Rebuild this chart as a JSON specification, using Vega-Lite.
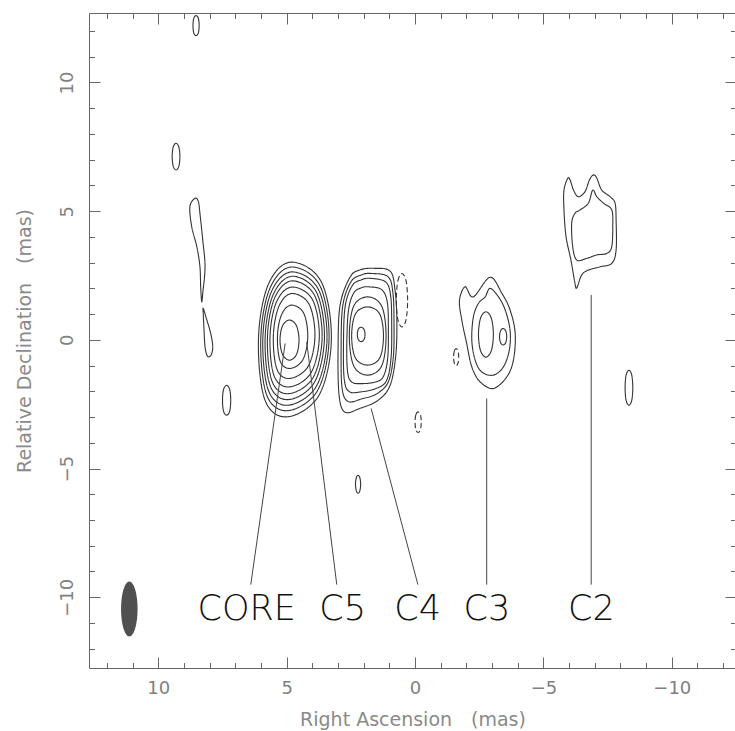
{
"$schema": "https://vega.github.io/schema/vega-lite/v6.json",
"width": 647, "height": 655,
"autosize": "none",
"padding": {"left": 89, "top": 13, "right": 0, "bottom": 63},
"background": "white",
"config": {
  "view": {"stroke": "#666", "strokeWidth": 1},
  "axis": {"grid": false, "domain": false, "tickColor": "#666", "tickWidth": 1, "labelFont": "DejaVu Sans", "labelFontSize": 18, "labelColor": "#808080", "titleFont": "DejaVu Sans", "titleFontSize": 19, "titleFontWeight": "normal", "titleColor": "#8a8a8a", "labelOverlap": false, "labelFlush": false}
},
"datasets": {
  "contours": [
    {"c":"k1","i":0,"x":6.10,"y":0.02,"t":"p"},{"c":"k1","i":1,"x":5.73,"y":2.12,"t":"p"},{"c":"k1","i":2,"x":4.85,"y":3.02,"t":"p"},{"c":"k1","i":3,"x":3.66,"y":2.27,"t":"p"},{"c":"k1","i":4,"x":3.26,"y":0.02,"t":"p"},{"c":"k1","i":5,"x":3.74,"y":-2.15,"t":"p"},{"c":"k1","i":6,"x":4.97,"y":-2.99,"t":"p"},{"c":"k1","i":7,"x":5.85,"y":-2.33,"t":"p"},
    {"c":"k2","i":0,"x":6.01,"y":0.04,"t":"p"},{"c":"k2","i":1,"x":5.66,"y":1.99,"t":"p"},{"c":"k2","i":2,"x":4.83,"y":2.83,"t":"p"},{"c":"k2","i":3,"x":3.72,"y":2.13,"t":"p"},{"c":"k2","i":4,"x":3.35,"y":0.04,"t":"p"},{"c":"k2","i":5,"x":3.80,"y":-1.97,"t":"p"},{"c":"k2","i":6,"x":4.95,"y":-2.75,"t":"p"},{"c":"k2","i":7,"x":5.78,"y":-2.14,"t":"p"},
    {"c":"k3","i":0,"x":5.93,"y":0.05,"t":"p"},{"c":"k3","i":1,"x":5.60,"y":1.86,"t":"p"},{"c":"k3","i":2,"x":4.82,"y":2.64,"t":"p"},{"c":"k3","i":3,"x":3.78,"y":1.99,"t":"p"},{"c":"k3","i":4,"x":3.43,"y":0.05,"t":"p"},{"c":"k3","i":5,"x":3.85,"y":-1.81,"t":"p"},{"c":"k3","i":6,"x":4.94,"y":-2.54,"t":"p"},{"c":"k3","i":7,"x":5.71,"y":-1.97,"t":"p"},
    {"c":"k4","i":0,"x":5.84,"y":0.08,"t":"p"},{"c":"k4","i":1,"x":5.53,"y":1.75,"t":"p"},{"c":"k4","i":2,"x":4.80,"y":2.47,"t":"p"},{"c":"k4","i":3,"x":3.85,"y":1.87,"t":"p"},{"c":"k4","i":4,"x":3.53,"y":0.08,"t":"p"},{"c":"k4","i":5,"x":3.92,"y":-1.65,"t":"p"},{"c":"k4","i":6,"x":4.92,"y":-2.32,"t":"p"},{"c":"k4","i":7,"x":5.64,"y":-1.79,"t":"p"},
    {"c":"k5","i":0,"x":5.75,"y":0.10,"t":"p"},{"c":"k5","i":1,"x":5.47,"y":1.63,"t":"p"},{"c":"k5","i":2,"x":4.80,"y":2.29,"t":"p"},{"c":"k5","i":3,"x":3.92,"y":1.74,"t":"p"},{"c":"k5","i":4,"x":3.62,"y":0.10,"t":"p"},{"c":"k5","i":5,"x":3.98,"y":-1.48,"t":"p"},{"c":"k5","i":6,"x":4.92,"y":-2.09,"t":"p"},{"c":"k5","i":7,"x":5.57,"y":-1.61,"t":"p"},
    {"c":"k6","i":0,"x":5.65,"y":0.11,"t":"p"},{"c":"k6","i":1,"x":5.40,"y":1.47,"t":"p"},{"c":"k6","i":2,"x":4.80,"y":2.05,"t":"p"},{"c":"k6","i":3,"x":4.00,"y":1.57,"t":"p"},{"c":"k6","i":4,"x":3.73,"y":0.11,"t":"p"},{"c":"k6","i":5,"x":4.06,"y":-1.29,"t":"p"},{"c":"k6","i":6,"x":4.90,"y":-1.83,"t":"p"},{"c":"k6","i":7,"x":5.49,"y":-1.40,"t":"p"},
    {"c":"k7","i":0,"x":5.52,"y":0.15,"t":"p"},{"c":"k7","i":1,"x":5.30,"y":1.31,"t":"p"},{"c":"k7","i":2,"x":4.80,"y":1.80,"t":"p"},{"c":"k7","i":3,"x":4.13,"y":1.39,"t":"p"},{"c":"k7","i":4,"x":3.90,"y":0.15,"t":"p"},{"c":"k7","i":5,"x":4.17,"y":-1.04,"t":"p"},{"c":"k7","i":6,"x":4.88,"y":-1.50,"t":"p"},{"c":"k7","i":7,"x":5.38,"y":-1.14,"t":"p"},
    {"c":"k8","i":0,"x":5.36,"y":0.12,"t":"p"},{"c":"k8","i":1,"x":5.20,"y":0.98,"t":"p"},{"c":"k8","i":2,"x":4.82,"y":1.35,"t":"p"},{"c":"k8","i":3,"x":4.34,"y":1.04,"t":"p"},{"c":"k8","i":4,"x":4.18,"y":0.12,"t":"p"},{"c":"k8","i":5,"x":4.37,"y":-0.77,"t":"p"},{"c":"k8","i":6,"x":4.86,"y":-1.11,"t":"p"},{"c":"k8","i":7,"x":5.25,"y":-0.84,"t":"p"},
    {"c":"k9","i":0,"x":5.26,"y":-0.01,"t":"p"},{"c":"k9","i":1,"x":5.16,"y":0.55,"t":"p"},{"c":"k9","i":2,"x":4.89,"y":0.77,"t":"p"},{"c":"k9","i":3,"x":4.62,"y":0.55,"t":"p"},{"c":"k9","i":4,"x":4.52,"y":-0.01,"t":"p"},{"c":"k9","i":5,"x":4.62,"y":-0.57,"t":"p"},{"c":"k9","i":6,"x":4.89,"y":-0.79,"t":"p"},{"c":"k9","i":7,"x":5.16,"y":-0.57,"t":"p"},
    {"c":"q1","i":0,"x":1.62,"y":2.78,"t":"p"},{"c":"q1","i":1,"x":0.97,"y":2.67,"t":"p"},{"c":"q1","i":2,"x":0.78,"y":1.93,"t":"p"},{"c":"q1","i":3,"x":0.71,"y":0.77,"t":"p"},{"c":"q1","i":4,"x":0.75,"y":-0.59,"t":"p"},{"c":"q1","i":5,"x":0.97,"y":-1.76,"t":"p"},{"c":"q1","i":6,"x":1.44,"y":-2.35,"t":"p"},{"c":"q1","i":7,"x":2.14,"y":-2.66,"t":"p"},{"c":"q1","i":8,"x":2.73,"y":-2.81,"t":"p"},{"c":"q1","i":9,"x":2.96,"y":-2.15,"t":"p"},{"c":"q1","i":10,"x":3.00,"y":-0.40,"t":"p"},{"c":"q1","i":11,"x":2.92,"y":1.35,"t":"p"},{"c":"q1","i":12,"x":2.53,"y":2.44,"t":"p"},{"c":"q1","i":13,"x":2.14,"y":2.72,"t":"p"},
    {"c":"q2","i":0,"x":1.70,"y":2.58,"t":"p"},{"c":"q2","i":1,"x":1.05,"y":2.45,"t":"p"},{"c":"q2","i":2,"x":0.86,"y":1.80,"t":"p"},{"c":"q2","i":3,"x":0.82,"y":0.60,"t":"p"},{"c":"q2","i":4,"x":0.85,"y":-0.70,"t":"p"},{"c":"q2","i":5,"x":1.05,"y":-1.65,"t":"p"},{"c":"q2","i":6,"x":1.50,"y":-2.10,"t":"p"},{"c":"q2","i":7,"x":2.10,"y":-2.30,"t":"p"},{"c":"q2","i":8,"x":2.60,"y":-2.40,"t":"p"},{"c":"q2","i":9,"x":2.84,"y":-1.90,"t":"p"},{"c":"q2","i":10,"x":2.88,"y":-0.40,"t":"p"},{"c":"q2","i":11,"x":2.82,"y":1.30,"t":"p"},{"c":"q2","i":12,"x":2.50,"y":2.25,"t":"p"},{"c":"q2","i":13,"x":2.10,"y":2.52,"t":"p"},
    {"c":"q3","i":0,"x":1.75,"y":2.39,"t":"p"},{"c":"q3","i":1,"x":1.15,"y":2.25,"t":"p"},{"c":"q3","i":2,"x":0.95,"y":1.70,"t":"p"},{"c":"q3","i":3,"x":0.91,"y":0.50,"t":"p"},{"c":"q3","i":4,"x":0.94,"y":-0.75,"t":"p"},{"c":"q3","i":5,"x":1.12,"y":-1.60,"t":"p"},{"c":"q3","i":6,"x":1.55,"y":-1.90,"t":"p"},{"c":"q3","i":7,"x":2.10,"y":-2.02,"t":"p"},{"c":"q3","i":8,"x":2.55,"y":-2.02,"t":"p"},{"c":"q3","i":9,"x":2.75,"y":-1.60,"t":"p"},{"c":"q3","i":10,"x":2.79,"y":-0.40,"t":"p"},{"c":"q3","i":11,"x":2.73,"y":1.25,"t":"p"},{"c":"q3","i":12,"x":2.45,"y":2.10,"t":"p"},{"c":"q3","i":13,"x":2.10,"y":2.33,"t":"p"},
    {"c":"q4","i":0,"x":1.80,"y":2.06,"t":"p"},{"c":"q4","i":1,"x":1.30,"y":1.95,"t":"p"},{"c":"q4","i":2,"x":1.08,"y":1.45,"t":"p"},{"c":"q4","i":3,"x":1.04,"y":0.40,"t":"p"},{"c":"q4","i":4,"x":1.07,"y":-0.75,"t":"p"},{"c":"q4","i":5,"x":1.25,"y":-1.45,"t":"p"},{"c":"q4","i":6,"x":1.60,"y":-1.65,"t":"p"},{"c":"q4","i":7,"x":2.10,"y":-1.70,"t":"p"},{"c":"q4","i":8,"x":2.45,"y":-1.65,"t":"p"},{"c":"q4","i":9,"x":2.62,"y":-1.30,"t":"p"},{"c":"q4","i":10,"x":2.66,"y":-0.30,"t":"p"},{"c":"q4","i":11,"x":2.60,"y":1.10,"t":"p"},{"c":"q4","i":12,"x":2.40,"y":1.80,"t":"p"},{"c":"q4","i":13,"x":2.10,"y":2.02,"t":"p"},
    {"c":"q5","i":0,"x":2.56,"y":0.15,"t":"p"},{"c":"q5","i":1,"x":2.39,"y":1.31,"t":"p"},{"c":"q5","i":2,"x":1.85,"y":1.67,"t":"p"},{"c":"q5","i":3,"x":1.30,"y":1.31,"t":"p"},{"c":"q5","i":4,"x":1.13,"y":0.15,"t":"p"},{"c":"q5","i":5,"x":1.30,"y":-1.01,"t":"p"},{"c":"q5","i":6,"x":1.85,"y":-1.37,"t":"p"},{"c":"q5","i":7,"x":2.39,"y":-1.01,"t":"p"},
    {"c":"q6","i":0,"x":2.47,"y":0.15,"t":"p"},{"c":"q6","i":1,"x":2.32,"y":1.01,"t":"p"},{"c":"q6","i":2,"x":1.85,"y":1.28,"t":"p"},{"c":"q6","i":3,"x":1.38,"y":1.01,"t":"p"},{"c":"q6","i":4,"x":1.23,"y":0.15,"t":"p"},{"c":"q6","i":5,"x":1.38,"y":-0.71,"t":"p"},{"c":"q6","i":6,"x":1.85,"y":-0.98,"t":"p"},{"c":"q6","i":7,"x":2.32,"y":-0.71,"t":"p"},
    {"c":"q7","i":0,"x":2.25,"y":0.21,"t":"p"},{"c":"q7","i":1,"x":2.21,"y":0.41,"t":"p"},{"c":"q7","i":2,"x":2.10,"y":0.49,"t":"p"},{"c":"q7","i":3,"x":1.99,"y":0.41,"t":"p"},{"c":"q7","i":4,"x":1.95,"y":0.21,"t":"p"},{"c":"q7","i":5,"x":1.99,"y":0.01,"t":"p"},{"c":"q7","i":6,"x":2.10,"y":-0.07,"t":"p"},{"c":"q7","i":7,"x":2.21,"y":0.01,"t":"p"},
    {"c":"r1","i":0,"x":-1.95,"y":2.06,"t":"p"},{"c":"r1","i":1,"x":-2.27,"y":1.67,"t":"p"},{"c":"r1","i":2,"x":-2.92,"y":2.43,"t":"p"},{"c":"r1","i":3,"x":-3.38,"y":1.81,"t":"p"},{"c":"r1","i":4,"x":-3.70,"y":1.16,"t":"p"},{"c":"r1","i":5,"x":-3.90,"y":0.25,"t":"p"},{"c":"r1","i":6,"x":-3.83,"y":-0.79,"t":"p"},{"c":"r1","i":7,"x":-3.57,"y":-1.44,"t":"p"},{"c":"r1","i":8,"x":-3.05,"y":-1.89,"t":"p"},{"c":"r1","i":9,"x":-2.53,"y":-1.63,"t":"p"},{"c":"r1","i":10,"x":-2.21,"y":-1.05,"t":"p"},{"c":"r1","i":11,"x":-2.01,"y":-0.14,"t":"p"},{"c":"r1","i":12,"x":-1.82,"y":0.77,"t":"p"},{"c":"r1","i":13,"x":-1.73,"y":1.54,"t":"p"},
    {"c":"r2","i":0,"x":-2.92,"y":2.00,"t":"p"},{"c":"r2","i":1,"x":-3.25,"y":1.67,"t":"p"},{"c":"r2","i":2,"x":-3.51,"y":1.16,"t":"p"},{"c":"r2","i":3,"x":-3.70,"y":0.38,"t":"p"},{"c":"r2","i":4,"x":-3.67,"y":-0.40,"t":"p"},{"c":"r2","i":5,"x":-3.44,"y":-1.05,"t":"p"},{"c":"r2","i":6,"x":-3.05,"y":-1.37,"t":"p"},{"c":"r2","i":7,"x":-2.60,"y":-1.25,"t":"p"},{"c":"r2","i":8,"x":-2.34,"y":-0.79,"t":"p"},{"c":"r2","i":9,"x":-2.21,"y":-0.01,"t":"p"},{"c":"r2","i":10,"x":-2.27,"y":0.89,"t":"p"},{"c":"r2","i":11,"x":-2.47,"y":1.42,"t":"p"},{"c":"r2","i":12,"x":-2.73,"y":1.67,"t":"p"},
    {"c":"r3","i":0,"x":-2.47,"y":0.21,"t":"p"},{"c":"r3","i":1,"x":-2.55,"y":0.84,"t":"p"},{"c":"r3","i":2,"x":-2.76,"y":1.09,"t":"p"},{"c":"r3","i":3,"x":-2.97,"y":0.84,"t":"p"},{"c":"r3","i":4,"x":-3.05,"y":0.21,"t":"p"},{"c":"r3","i":5,"x":-2.97,"y":-0.42,"t":"p"},{"c":"r3","i":6,"x":-2.76,"y":-0.67,"t":"p"},{"c":"r3","i":7,"x":-2.55,"y":-0.42,"t":"p"},
    {"c":"r4","i":0,"x":-3.29,"y":0.12,"t":"p"},{"c":"r4","i":1,"x":-3.33,"y":0.35,"t":"p"},{"c":"r4","i":2,"x":-3.43,"y":0.44,"t":"p"},{"c":"r4","i":3,"x":-3.53,"y":0.35,"t":"p"},{"c":"r4","i":4,"x":-3.57,"y":0.12,"t":"p"},{"c":"r4","i":5,"x":-3.53,"y":-0.11,"t":"p"},{"c":"r4","i":6,"x":-3.43,"y":-0.20,"t":"p"},{"c":"r4","i":7,"x":-3.33,"y":-0.11,"t":"p"},
    {"c":"s1","i":0,"x":-5.95,"y":6.28,"t":"p"},{"c":"s1","i":1,"x":-5.80,"y":5.82,"t":"p"},{"c":"s1","i":2,"x":-5.80,"y":5.05,"t":"p"},{"c":"s1","i":3,"x":-5.88,"y":4.01,"t":"p"},{"c":"s1","i":4,"x":-6.07,"y":3.10,"t":"p"},{"c":"s1","i":5,"x":-6.23,"y":2.19,"t":"p"},{"c":"s1","i":6,"x":-6.30,"y":2.02,"t":"p"},{"c":"s1","i":7,"x":-6.49,"y":2.52,"t":"p"},{"c":"s1","i":8,"x":-6.75,"y":2.71,"t":"p"},{"c":"s1","i":9,"x":-7.21,"y":2.84,"t":"p"},{"c":"s1","i":10,"x":-7.66,"y":2.97,"t":"p"},{"c":"s1","i":11,"x":-7.83,"y":3.49,"t":"p"},{"c":"s1","i":12,"x":-7.83,"y":4.66,"t":"p"},{"c":"s1","i":13,"x":-7.79,"y":5.31,"t":"p"},{"c":"s1","i":14,"x":-7.60,"y":5.56,"t":"p"},{"c":"s1","i":15,"x":-7.27,"y":5.82,"t":"p"},{"c":"s1","i":16,"x":-7.08,"y":6.28,"t":"p"},{"c":"s1","i":17,"x":-6.95,"y":6.41,"t":"p"},{"c":"s1","i":18,"x":-6.79,"y":6.21,"t":"p"},{"c":"s1","i":19,"x":-6.62,"y":5.76,"t":"p"},{"c":"s1","i":20,"x":-6.36,"y":5.56,"t":"p"},{"c":"s1","i":21,"x":-6.17,"y":5.82,"t":"p"},{"c":"s1","i":22,"x":-6.04,"y":6.21,"t":"p"},
    {"c":"s2","i":0,"x":-6.92,"y":5.82,"t":"p"},{"c":"s2","i":1,"x":-6.75,"y":5.31,"t":"p"},{"c":"s2","i":2,"x":-6.43,"y":5.05,"t":"p"},{"c":"s2","i":3,"x":-6.23,"y":4.92,"t":"p"},{"c":"s2","i":4,"x":-6.10,"y":4.53,"t":"p"},{"c":"s2","i":5,"x":-6.14,"y":3.62,"t":"p"},{"c":"s2","i":6,"x":-6.30,"y":3.10,"t":"p"},{"c":"s2","i":7,"x":-6.69,"y":3.17,"t":"p"},{"c":"s2","i":8,"x":-7.08,"y":3.30,"t":"p"},{"c":"s2","i":9,"x":-7.47,"y":3.36,"t":"p"},{"c":"s2","i":10,"x":-7.66,"y":3.62,"t":"p"},{"c":"s2","i":11,"x":-7.70,"y":4.40,"t":"p"},{"c":"s2","i":12,"x":-7.66,"y":5.05,"t":"p"},{"c":"s2","i":13,"x":-7.34,"y":5.31,"t":"p"},{"c":"s2","i":14,"x":-7.08,"y":5.56,"t":"p"},
    {"c":"a","i":0,"x":8.65,"y":12.21,"t":"p"},{"c":"a","i":1,"x":8.62,"y":12.49,"t":"p"},{"c":"a","i":2,"x":8.53,"y":12.60,"t":"p"},{"c":"a","i":3,"x":8.44,"y":12.49,"t":"p"},{"c":"a","i":4,"x":8.41,"y":12.21,"t":"p"},{"c":"a","i":5,"x":8.44,"y":11.93,"t":"p"},{"c":"a","i":6,"x":8.53,"y":11.82,"t":"p"},{"c":"a","i":7,"x":8.62,"y":11.93,"t":"p"},
    {"c":"b","i":0,"x":9.46,"y":7.12,"t":"p"},{"c":"b","i":1,"x":9.42,"y":7.49,"t":"p"},{"c":"b","i":2,"x":9.31,"y":7.64,"t":"p"},{"c":"b","i":3,"x":9.20,"y":7.49,"t":"p"},{"c":"b","i":4,"x":9.16,"y":7.12,"t":"p"},{"c":"b","i":5,"x":9.20,"y":6.75,"t":"p"},{"c":"b","i":6,"x":9.31,"y":6.60,"t":"p"},{"c":"b","i":7,"x":9.42,"y":6.75,"t":"p"},
    {"c":"cf","i":0,"x":8.57,"y":5.50,"t":"p"},{"c":"cf","i":1,"x":8.77,"y":5.18,"t":"p"},{"c":"cf","i":2,"x":8.70,"y":4.40,"t":"p"},{"c":"cf","i":3,"x":8.50,"y":3.62,"t":"p"},{"c":"cf","i":4,"x":8.38,"y":2.85,"t":"p"},{"c":"cf","i":5,"x":8.35,"y":2.06,"t":"p"},{"c":"cf","i":6,"x":8.31,"y":1.48,"t":"p"},{"c":"cf","i":7,"x":8.27,"y":1.81,"t":"p"},{"c":"cf","i":8,"x":8.18,"y":2.84,"t":"p"},{"c":"cf","i":9,"x":8.27,"y":3.88,"t":"p"},{"c":"cf","i":10,"x":8.38,"y":4.92,"t":"p"},{"c":"cf","i":11,"x":8.44,"y":5.37,"t":"p"},
    {"c":"d","i":0,"x":8.25,"y":1.22,"t":"p"},{"c":"d","i":1,"x":8.11,"y":0.77,"t":"p"},{"c":"d","i":2,"x":7.96,"y":0.25,"t":"p"},{"c":"d","i":3,"x":7.88,"y":-0.27,"t":"p"},{"c":"d","i":4,"x":7.95,"y":-0.60,"t":"p"},{"c":"d","i":5,"x":8.09,"y":-0.63,"t":"p"},{"c":"d","i":6,"x":8.18,"y":-0.27,"t":"p"},{"c":"d","i":7,"x":8.22,"y":0.38,"t":"p"},{"c":"d","i":8,"x":8.25,"y":1.03,"t":"p"},
    {"c":"e","i":0,"x":7.50,"y":-2.35,"t":"p"},{"c":"e","i":1,"x":7.46,"y":-1.93,"t":"p"},{"c":"e","i":2,"x":7.34,"y":-1.77,"t":"p"},{"c":"e","i":3,"x":7.22,"y":-1.93,"t":"p"},{"c":"e","i":4,"x":7.18,"y":-2.35,"t":"p"},{"c":"e","i":5,"x":7.22,"y":-2.77,"t":"p"},{"c":"e","i":6,"x":7.34,"y":-2.93,"t":"p"},{"c":"e","i":7,"x":7.46,"y":-2.77,"t":"p"},
    {"c":"f","i":0,"x":2.32,"y":-5.61,"t":"p"},{"c":"f","i":1,"x":2.29,"y":-5.36,"t":"p"},{"c":"f","i":2,"x":2.22,"y":-5.26,"t":"p"},{"c":"f","i":3,"x":2.15,"y":-5.36,"t":"p"},{"c":"f","i":4,"x":2.12,"y":-5.61,"t":"p"},{"c":"f","i":5,"x":2.15,"y":-5.86,"t":"p"},{"c":"f","i":6,"x":2.22,"y":-5.96,"t":"p"},{"c":"f","i":7,"x":2.29,"y":-5.86,"t":"p"},
    {"c":"j","i":0,"x":-8.18,"y":-1.86,"t":"p"},{"c":"j","i":1,"x":-8.22,"y":-1.37,"t":"p"},{"c":"j","i":2,"x":-8.33,"y":-1.18,"t":"p"},{"c":"j","i":3,"x":-8.44,"y":-1.37,"t":"p"},{"c":"j","i":4,"x":-8.48,"y":-1.86,"t":"p"},{"c":"j","i":5,"x":-8.44,"y":-2.35,"t":"p"},{"c":"j","i":6,"x":-8.33,"y":-2.54,"t":"p"},{"c":"j","i":7,"x":-8.22,"y":-2.35,"t":"p"},
    {"c":"g","i":0,"x":0.00,"y":-3.20,"t":"n"},{"c":"g","i":1,"x":-0.03,"y":-2.91,"t":"n"},{"c":"g","i":2,"x":-0.12,"y":-2.80,"t":"n"},{"c":"g","i":3,"x":-0.21,"y":-2.91,"t":"n"},{"c":"g","i":4,"x":-0.24,"y":-3.20,"t":"n"},{"c":"g","i":5,"x":-0.21,"y":-3.49,"t":"n"},{"c":"g","i":6,"x":-0.12,"y":-3.60,"t":"n"},{"c":"g","i":7,"x":-0.03,"y":-3.49,"t":"n"},
    {"c":"h","i":0,"x":0.73,"y":1.54,"t":"n"},{"c":"h","i":1,"x":0.67,"y":2.29,"t":"n"},{"c":"h","i":2,"x":0.51,"y":2.58,"t":"n"},{"c":"h","i":3,"x":0.35,"y":2.29,"t":"n"},{"c":"h","i":4,"x":0.29,"y":1.54,"t":"n"},{"c":"h","i":5,"x":0.35,"y":0.79,"t":"n"},{"c":"h","i":6,"x":0.51,"y":0.50,"t":"n"},{"c":"h","i":7,"x":0.67,"y":0.79,"t":"n"},
    {"c":"m","i":0,"x":-1.50,"y":-0.67,"t":"n"},{"c":"m","i":1,"x":-1.53,"y":-0.43,"t":"n"},{"c":"m","i":2,"x":-1.60,"y":-0.34,"t":"n"},{"c":"m","i":3,"x":-1.67,"y":-0.43,"t":"n"},{"c":"m","i":4,"x":-1.70,"y":-0.67,"t":"n"},{"c":"m","i":5,"x":-1.67,"y":-0.91,"t":"n"},{"c":"m","i":6,"x":-1.60,"y":-1.00,"t":"n"},{"c":"m","i":7,"x":-1.53,"y":-0.91,"t":"n"}
  ],
  "leaders": [
    {"name":"CORE","x":5.06,"y":-0.14,"x2":6.40,"y2":-9.51},
    {"name":"C5","x":4.22,"y":-0.08,"x2":3.05,"y2":-9.51},
    {"name":"C4","x":1.71,"y":-2.67,"x2":-0.11,"y2":-9.51},
    {"name":"C3","x":-2.79,"y":-2.28,"x2":-2.79,"y2":-9.51},
    {"name":"C2","x":-6.86,"y":1.74,"x2":-6.86,"y2":-9.51}
  ],
  "labels": [
    {"label":"CORE","x":6.56,"y":-10.88},
    {"label":"C5","x":2.82,"y":-10.88},
    {"label":"C4","x":-0.10,"y":-10.88},
    {"label":"C3","x":-2.80,"y":-10.88},
    {"label":"C2","x":-6.87,"y":-10.88}
  ],
  "beam": [{"x":11.13,"y":-10.46}]
},
"layer": [
  {
    "data": {"name": "contours"},
    "mark": {"type": "line", "interpolate": "cardinal-closed", "color": "#333333", "strokeWidth": 1.1},
    "encoding": {
      "x": {"field": "x", "type": "quantitative", "scale": {"domain": [12.7, -12.5], "nice": false, "zero": false},
        "axis": {"orient": "bottom", "title": "Right Ascension\u2003(mas)", "values": [-12,-11,-10,-9,-8,-7,-6,-5,-4,-3,-2,-1,0,1,2,3,4,5,6,7,8,9,10,11,12],
          "labelExpr": "datum.value % 5 === 0 ? (datum.value < 0 ? '\u2212' + abs(datum.value) : '' + datum.value) : ''",
          "tickSize": {"condition": {"test": "datum.value % 5 === 0", "value": -11}, "value": -5.5},
          "labelPadding": 22, "titlePadding": 8}},
      "y": {"field": "y", "type": "quantitative", "scale": {"domain": [-12.75, 12.7], "nice": false, "zero": false},
        "axis": {"orient": "left", "title": "Relative Declination\u2003(mas)", "values": [-12,-11,-10,-9,-8,-7,-6,-5,-4,-3,-2,-1,0,1,2,3,4,5,6,7,8,9,10,11,12],
          "labelExpr": "datum.value % 5 === 0 ? (datum.value < 0 ? '\u2212' + abs(datum.value) : '' + datum.value) : ''",
          "tickSize": {"condition": {"test": "datum.value % 5 === 0", "value": -11}, "value": -5.5},
          "labelAngle": -90, "labelAlign": "center", "labelBaseline": "bottom", "labelPadding": 24, "titlePadding": 18}},
      "detail": {"field": "c", "type": "nominal"},
      "order": {"field": "i", "type": "quantitative"},
      "strokeDash": {"field": "t", "type": "nominal", "scale": {"domain": ["p", "n"], "range": [[1, 0], [5, 3]]}, "legend": null}
    }
  },
  {
    "data": {"name": "leaders"},
    "mark": {"type": "rule", "color": "#444444", "strokeWidth": 1},
    "encoding": {
      "x": {"field": "x", "type": "quantitative", "scale": {"domain": [12.7, -12.5], "nice": false, "zero": false},
        "axis": {"orient": "top", "title": null, "labels": false, "values": [-12,-11,-10,-9,-8,-7,-6,-5,-4,-3,-2,-1,0,1,2,3,4,5,6,7,8,9,10,11,12],
          "tickSize": {"condition": {"test": "datum.value % 5 === 0", "value": -11}, "value": -5.5}}},
      "y": {"field": "y", "type": "quantitative", "scale": {"domain": [-12.75, 12.7], "nice": false, "zero": false},
        "axis": {"orient": "right", "title": null, "labels": false, "values": [-12,-11,-10,-9,-8,-7,-6,-5,-4,-3,-2,-1,0,1,2,3,4,5,6,7,8,9,10,11,12],
          "tickSize": {"condition": {"test": "datum.value % 5 === 0", "value": -11}, "value": -5.5}}},
      "x2": {"field": "x2"},
      "y2": {"field": "y2"}
    }
  },
  {
    "data": {"name": "labels"},
    "mark": {"type": "text", "font": "DejaVu Sans", "fontSize": 35, "fontWeight": 300, "color": "#111111", "align": "center", "baseline": "alphabetic"},
    "encoding": {
      "x": {"field": "x", "type": "quantitative", "axis": null},
      "y": {"field": "y", "type": "quantitative", "axis": null},
      "text": {"field": "label"}
    }
  },
  {
    "data": {"name": "beam"},
    "mark": {"type": "point", "filled": true, "shape": "M0,-1A0.3,1,0,1,1,0,1A0.3,1,0,1,1,0,-1Z", "size": 3025, "color": "#505050", "opacity": 1, "strokeWidth": 0},
    "encoding": {
      "x": {"field": "x", "type": "quantitative", "axis": null},
      "y": {"field": "y", "type": "quantitative", "axis": null}
    }
  }
],
"resolve": {"axis": {"x": "independent", "y": "independent"}}
}
